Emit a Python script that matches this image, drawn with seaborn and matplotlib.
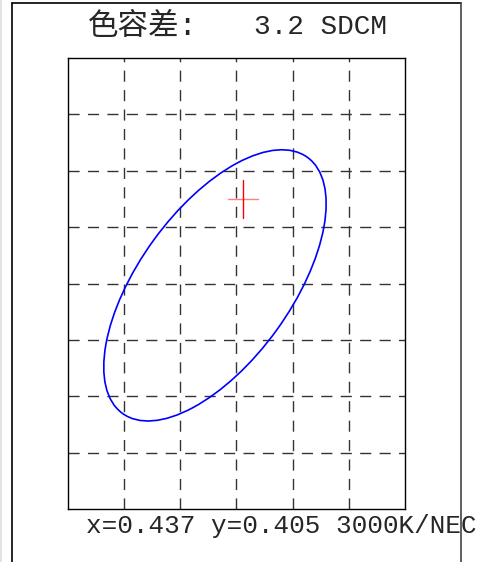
import matplotlib.pyplot as plt
import seaborn as sns
import numpy as np
from matplotlib.patches import Ellipse
from matplotlib.lines import Line2D

sns.set_style("white")
plt.rcParams['font.family'] = ['Liberation Mono', 'Noto Sans CJK SC']

# values
title_label = "色容差:"
sdcm = 3.2
point_x = 0.437
point_y = 0.405
cct_label = "3000K/NEC"
ellipse_center = [0.4355, 0.4004]
step_a = 0.00263   # semi-axes of one step
step_b = 0.00127
ellipse_angle = 54
x_lim = [0.42765, 0.44565]
y_lim = [0.3885, 0.4125]
n_cols = 6
n_rows = 8

fig = plt.figure(figsize=(4.85, 5.62), dpi=100)
ax = fig.add_axes([0.1402, 0.0943, 0.6948, 0.8025])

ax.set_xlim(x_lim)
ax.set_ylim(y_lim)
ax.set_xticks(np.linspace(x_lim[0], x_lim[1], n_cols + 1)[1:-1])
ax.set_yticks(np.linspace(y_lim[0], y_lim[1], n_rows + 1)[1:-1])
ax.grid(True, color='#333333', linestyle=(0, (8, 6)), linewidth=1)
ax.tick_params(length=0, labelbottom=False, labelleft=False)
for s in ax.spines.values():
    s.set_color('black')
    s.set_linewidth(1)

e = Ellipse(ellipse_center, width=2 * step_a * sdcm, height=2 * step_b * sdcm,
            angle=ellipse_angle, fill=False, edgecolor='blue', linewidth=1.2)
ax.add_patch(e)

# cross at measured point
ax.plot([point_x - 0.0008, point_x + 0.0008], [point_y, point_y], color='red', alpha=0.5, lw=1)
ax.plot([point_x, point_x], [point_y - 0.00101, point_y + 0.00101], color='red', lw=1)

fig.text(0.1814, 0.952, title_label, fontsize=22, ha='left', va='center')
fig.text(0.5237, 0.952, f"{sdcm} SDCM", fontsize=20, ha='left', va='center')
fig.text(0.1773, 0.064, f"x={point_x} y={point_y} {cct_label}", fontsize=18.7, ha='left', va='center')

# outer frame
for xs, ys, c in [([12.5 / 485] * 2, [0, 1 - 2.5 / 562], 'black'),
                  ([12.5 / 485, 461.5 / 485], [1 - 2.5 / 562] * 2, 'black'),
                  ([461.5 / 485] * 2, [0, 1 - 2.5 / 562], '#444444'),
                  ([1.5 / 485] * 2, [0, 1], '#dddddd')]:
    fig.add_artist(Line2D(xs, ys, transform=fig.transFigure, color=c, lw=1.2, zorder=10))

fig.savefig("out.png", dpi=100)
